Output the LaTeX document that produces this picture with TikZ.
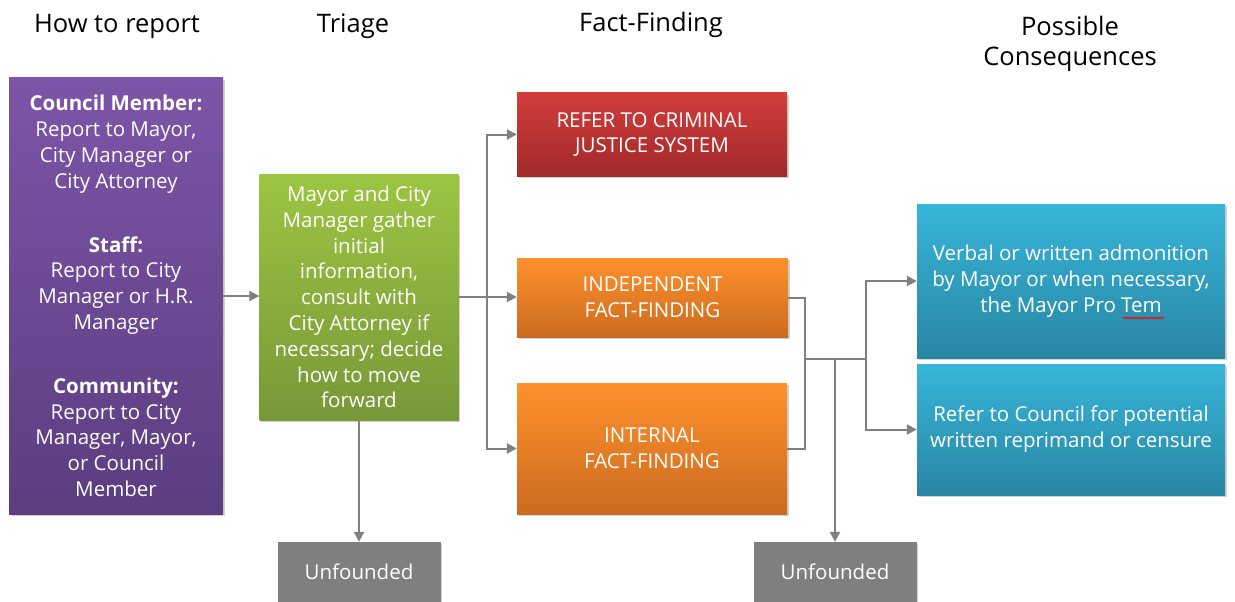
\documentclass[tikz,border=0pt]{standalone}
\usepackage{fontspec}
\setmainfont{Open Sans}
\usetikzlibrary{arrows.meta,shadows,calc,decorations.pathmorphing}
\definecolor{conn}{HTML}{808080}
\tikzset{
  box/.style={rectangle, draw=none, text=white, align=center, inner sep=0pt,
    font=\fontsize{20.5}{25.8}\selectfont,
    drop shadow={opacity=0.35, shadow xshift=1.5pt, shadow yshift=-2pt}},
  purplebox/.style={box, top color=purpleT, bottom color=purpleB},
  greenbox/.style={box, top color=greenT, bottom color=greenB},
  redbox/.style={box, top color=redT, bottom color=redB},
  orangebox/.style={box, top color=orangeT, bottom color=orangeB},
  tealbox/.style={box, top color=tealT, bottom color=tealB},
  greybox/.style={box, fill=greyF},
  title/.style={font=\fontsize{25.5}{30.5}\selectfont, text=black, align=center, inner sep=0pt},
  conline/.style={draw=conn, line width=2pt},
  arr/.style={conline, -{Triangle[length=10pt,width=10pt]}},
  squig/.style={draw=red, line width=0.8pt, decorate, decoration={snake, amplitude=0.9pt, segment length=3pt}}
}
\definecolor{purpleT}{HTML}{7D55A8}
\definecolor{purpleB}{HTML}{5C3D80}
\definecolor{greenT}{HTML}{9CC542}
\definecolor{greenB}{HTML}{779838}
\definecolor{redT}{HTML}{D13D3B}
\definecolor{redB}{HTML}{A2292B}
\definecolor{orangeT}{HTML}{FF912D}
\definecolor{orangeB}{HTML}{CB6B1F}
\definecolor{tealT}{HTML}{37B5DA}
\definecolor{tealB}{HTML}{2886A2}
\definecolor{greyF}{HTML}{7F7F7F}
\begin{document}
\begin{tikzpicture}[x=1pt,y=-1pt]
\useasboundingbox[fill=white] (0,0) rectangle (1235,602);
% titles
\node[title] (t1) at (117,26) {How to report};
\node[title] (t2) at (353,26) {Triage};
\node[title] (t3) at (651,25) {Fact-Finding};
\node[title] (t4) at (1070,44) {Possible\\Consequences};
% boxes
\node[purplebox, minimum width=214pt, minimum height=436pt] (report) at (116,296)
  {\textbf{Council Member:}\\Report to Mayor,\\City Manager or\\City Attorney\\[38pt]
   \textbf{Staff:}\\Report to City\\Manager or H.R.\\Manager\\[38pt]
   \textbf{Community:}\\Report to City\\Manager, Mayor,\\or Council\\Member};
\node[greenbox, minimum width=199pt, minimum height=246pt] (triage) at (359,297)
  {Mayor and City\\Manager gather\\initial\\information,\\consult with\\City Attorney if\\necessary; decide\\how to move\\forward};
\node[redbox, minimum width=270pt, minimum height=83pt] (crim) at (652,134.5)
  {REFER TO CRIMINAL\\JUSTICE SYSTEM};
\node[orangebox, minimum width=271pt, minimum height=79pt] (indep) at (652.5,297.5)
  {INDEPENDENT\\FACT-FINDING};
\node[orangebox, minimum width=270pt, minimum height=131pt] (internal) at (652,448.5)
  {INTERNAL\\FACT-FINDING};
\node[tealbox, minimum width=308pt, minimum height=154pt] (verbal) at (1071,281)
  {Verbal or written admonition\\by Mayor or when necessary,\\the Mayor Pro Tem};
\node[tealbox, minimum width=308pt, minimum height=131pt] (council) at (1071,429.5)
  {Refer to Council for potential\\written reprimand or censure};
\node[greybox, minimum width=163pt, minimum height=60pt] (unf1) at (359,572)
  {Unfounded};
\node[greybox, minimum width=163pt, minimum height=60pt] (unf2) at (835,572)
  {Unfounded};
% spell-check squiggle under "Tem"
\draw[squig] ($(verbal.center)+(52,37)$) -- ($(verbal.center)+(93,37)$);
% junctions
\coordinate (j1) at (487,297);
\coordinate (j2) at (805,359);
\coordinate (j3) at (866,359);
\coordinate (j4) at (835,359);
% connectors
\draw[arr] (report.east) -- (report.east -| triage.west);
\draw[conline] (triage.east |- j1) -- (j1);
\draw[arr] (j1) |- (crim.west);
\draw[arr] (j1) -- (j1 -| indep.west);
\draw[arr] (j1) |- (internal.west);
\draw[arr] (triage.south) -- (unf1.north);
\draw[conline] (indep.east) -| (j2) |- (internal.east);
\draw[conline] (j2) -- (j3);
\draw[arr] (j3) |- (verbal.west);
\draw[arr] (j3) |- (council.west);
\draw[arr] (j4) -- (unf2.north);
\end{tikzpicture}
\end{document}
